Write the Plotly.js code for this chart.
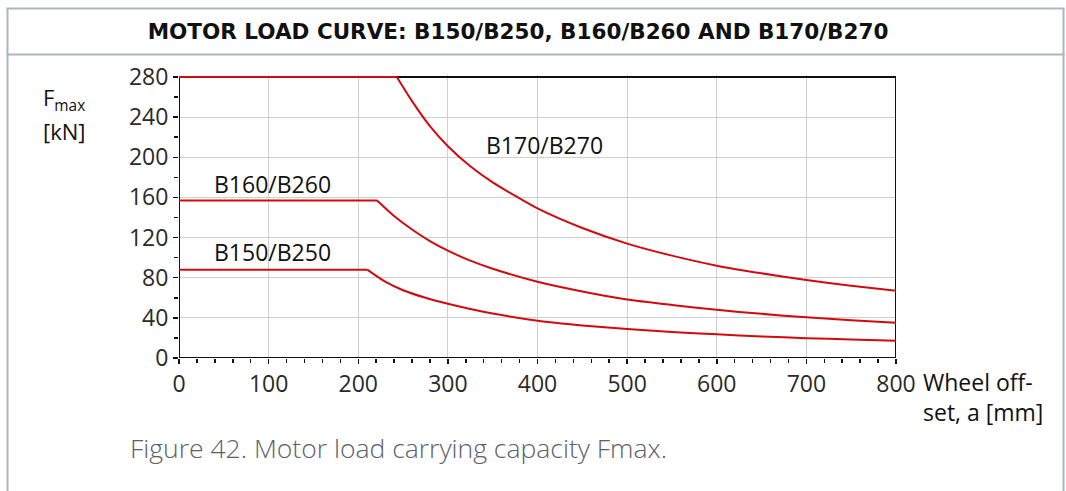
<!DOCTYPE html>
<html>
<head>
<meta charset="utf-8">
<script src="https://cdn.plot.ly/plotly-3.0.1.min.js"></script>
<style>
html,body{margin:0;padding:0;background:#fff;}
#chart{width:1066px;height:491px;}
</style>
</head>
<body>
<div id="chart"></div>
<script>
// Wheel offset a [mm] and Fmax [kN]
const seriesNames = ["B150/B250", "B160/B260", "B170/B270"];

const aB150 = [0, 210, 230, 250, 275, 300, 325, 350, 400, 450, 500, 550, 600, 650, 700, 750, 800];
const fB150 = [88, 88, 76, 67.5, 60, 54, 48.8, 44.3, 37.2, 32.5, 28.8, 26, 23.6, 21.5, 19.8, 18.4, 17.3];

const aB160 = [0, 221, 240, 260, 280, 300, 325, 350, 400, 450, 500, 550, 600, 650, 700, 750, 800];
const fB160 = [157, 157, 141.5, 128, 116.5, 107, 97, 89, 76, 66.3, 58.3, 52.9, 48, 44, 40.5, 37.6, 35.2];

const aB170 = [0, 243, 260, 280, 300, 325, 350, 400, 450, 500, 550, 600, 650, 700, 750, 800];
const fB170 = [280, 280, 256, 231, 211, 191, 175, 149, 129.5, 114, 102, 92, 84.4, 77.8, 72, 67];

const xTicks = [0, 100, 200, 300, 400, 500, 600, 700, 800];
const yTicks = [0, 40, 80, 120, 160, 200, 240, 280];

const titleText = "MOTOR LOAD CURVE: B150/B250, B160/B260 AND B170/B270";
const captionText = "Figure 42. Motor load carrying capacity Fmax.";
const xTitleText = "Wheel off-<br>set, a [mm]";
const yTitleLine1 = "F<sub>max</sub>";
const yTitleLine2 = "[kN]";

const red = "#d10a0f";
// each curve: a flat plateau (first two points) then a smooth decreasing part
function traces(x, y, name) {
  return [
    {x: x.slice(0, 2), y: y.slice(0, 2), name: name, type: "scatter", mode: "lines",
     line: {color: red, width: 2}, hoverinfo: "x+y+name", cliponaxis: false},
    {x: x.slice(1), y: y.slice(1), name: name, type: "scatter", mode: "lines",
     line: {color: red, width: 2, shape: "spline", smoothing: 0.6}, hoverinfo: "x+y+name", cliponaxis: false}
  ];
}
const data = [].concat(
  traces(aB150, fB150, seriesNames[0]),
  traces(aB160, fB160, seriesNames[1]),
  traces(aB170, fB170, seriesNames[2])
);

// plot area: x 179..896 px, y 75..358 px (value 280 sits at y = 77)
const L = 179, R = 896, T = 75, B = 358;
const W = 1066, H = 491;
const px = v => (v - L) / (R - L);
const py = v => (B - v) / (B - T);
const frameColor = "#adb5c2";
const tickFont = {family: "Open Sans, sans-serif", size: 23, color: "#2a2a2a"};
const labelFont = {family: "Open Sans, sans-serif", size: 23, color: "#111"};
const xMin = xTicks[0], xMax = xTicks[xTicks.length - 1];
const yMin = yTicks[0], yMax = yTicks[yTicks.length - 1];

const layout = {
  width: W, height: H,
  margin: {l: L, r: W - R, t: T, b: H - B, pad: 0},
  paper_bgcolor: "#fff", plot_bgcolor: "#fff",
  showlegend: false,
  font: {family: "Open Sans, sans-serif", size: 20, color: "#222"},
  xaxis: {
    range: [xMin, xMax], tickvals: xTicks, ticktext: xTicks.map(String),
    showgrid: true, gridcolor: "#cfcfcf", gridwidth: 1,
    showline: false,
    ticks: "outside", ticklen: 5, tickwidth: 1.5, tickcolor: "#111",
    minor: {dtick: 20, ticks: "outside", ticklen: 4, tickwidth: 1.5, tickcolor: "#111", showgrid: false},
    zeroline: false, tickfont: tickFont, fixedrange: true
  },
  yaxis: {
    range: [yMin, yMax + 2], tickvals: yTicks, ticktext: yTicks.map(String),
    showgrid: true, gridcolor: "#cfcfcf", gridwidth: 1,
    showline: false,
    ticks: "outside", ticklen: 5, tickwidth: 1.5, tickcolor: "#111",
    minor: {dtick: 20, ticks: "outside", ticklen: 4, tickwidth: 1.5, tickcolor: "#111", showgrid: false},
    zeroline: false, tickfont: tickFont, fixedrange: true
  },
  title: {
    text: "<b>" + titleText + "</b>",
    x: px(518), xref: "paper", xanchor: "center",
    y: 1 - 31 / H, yref: "container", yanchor: "middle",
    font: {family: "DejaVu Sans, sans-serif", size: 21.5, color: "#111", weight: 700}
  },
  shapes: [
    // plot frame (box around the axes), drawn under the curves
    {type: "rect", xref: "x", yref: "y", x0: xMin, x1: xMax, y0: yMin, y1: yMax, layer: "between", line: {color: "#111", width: 2}, fillcolor: "rgba(0,0,0,0)"},
    // outer panel frame
    {type: "line", xref: "paper", yref: "paper", x0: px(7.5), x1: px(7.5), y0: py(8), y1: py(495), line: {color: frameColor, width: 2}},
    {type: "line", xref: "paper", yref: "paper", x0: px(1063.5), x1: px(1063.5), y0: py(8), y1: py(495), line: {color: frameColor, width: 2}},
    {type: "line", xref: "paper", yref: "paper", x0: px(6.5), x1: px(1064.5), y0: py(8.5), y1: py(8.5), line: {color: frameColor, width: 2}},
    {type: "line", xref: "paper", yref: "paper", x0: px(6.5), x1: px(1064.5), y0: py(54.5), y1: py(54.5), line: {color: frameColor, width: 2}}
  ],
  annotations: [
    {text: seriesNames[2], x: 340, y: 212, xref: "x", yref: "y", xanchor: "left", yanchor: "middle", showarrow: false, font: labelFont},
    {text: seriesNames[1], x: 37, y: 173, xref: "x", yref: "y", xanchor: "left", yanchor: "middle", showarrow: false, font: labelFont},
    {text: seriesNames[0], x: 37, y: 105.5, xref: "x", yref: "y", xanchor: "left", yanchor: "middle", showarrow: false, font: labelFont},
    {text: xTitleText, x: px(921), y: py(364), xref: "paper", yref: "paper", xanchor: "left", yanchor: "top", align: "left", showarrow: false, font: labelFont},
    {text: yTitleLine1, x: px(41), y: py(99), xref: "paper", yref: "paper", xanchor: "left", yanchor: "middle", align: "left", showarrow: false, font: {family: "Open Sans, sans-serif", size: 22, color: "#111"}},
    {text: yTitleLine2, x: px(64), y: py(131), xref: "paper", yref: "paper", xanchor: "center", yanchor: "middle", align: "center", showarrow: false, font: {family: "Open Sans, sans-serif", size: 22, color: "#111"}},
    {text: captionText, x: px(128), y: py(448), xref: "paper", yref: "paper", xanchor: "left", yanchor: "middle", showarrow: false, font: {family: "Open Sans, sans-serif", size: 26.5, color: "#5c6168", weight: 300}}
  ]
};

Plotly.newPlot("chart", data, layout, {displayModeBar: false, staticPlot: true});
</script>
</body>
</html>
